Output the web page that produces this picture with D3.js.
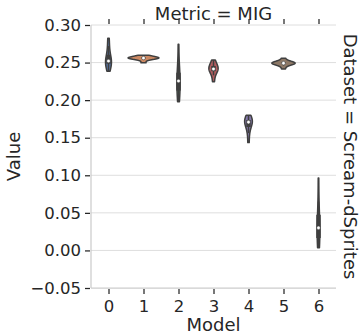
<!DOCTYPE html>
<html><head><meta charset="utf-8">
<script src="https://cdn.jsdelivr.net/npm/d3@7"></script>
<style>html,body{margin:0;padding:0;background:#fff;}svg{display:block;}</style>
</head><body>
<svg id="c" width="361" height="334"></svg>
<script>
// ---- data ----
const models = [0, 1, 2, 3, 4, 5, 6];
const yTicks = [-0.05, 0.00, 0.05, 0.10, 0.15, 0.20, 0.25, 0.30];
const palette = ["#4c72b0", "#dd8452", "#55a868", "#c44e52", "#8172b3", "#937860", "#da8bc3"];
const runs0 = [0.2385, 0.2440, 0.2480, 0.2500, 0.2515, 0.2525, 0.2560, 0.2620, 0.2720, 0.2825];
const runs1 = [0.2497, 0.2538, 0.2552, 0.2557, 0.2559, 0.2561, 0.2566, 0.2572, 0.2582, 0.2597];
const runs2 = [0.1980, 0.2040, 0.2110, 0.2180, 0.2230, 0.2280, 0.2320, 0.2380, 0.2500, 0.2745];
const runs3 = [0.2245, 0.2330, 0.2380, 0.2400, 0.2410, 0.2420, 0.2440, 0.2460, 0.2490, 0.2535];
const runs4 = [0.1435, 0.1560, 0.1630, 0.1680, 0.1700, 0.1715, 0.1725, 0.1740, 0.1755, 0.1800];
const runs5 = [0.2415, 0.2462, 0.2480, 0.2486, 0.2490, 0.2494, 0.2498, 0.2503, 0.2515, 0.2558];
const runs6 = [0.0035, 0.0090, 0.0150, 0.0210, 0.0270, 0.0330, 0.0400, 0.0500, 0.0650, 0.0965];
const runs = [runs0, runs1, runs2, runs3, runs4, runs5, runs6];
const titleText = "Metric = MIG";
const rowText = "Dataset = Scream-dSprites";
const xLabel = "Model", yLabel = "Value";

// ---- layout ----
const L = 91, R = 336, T = 25, B = 288;
const svg = d3.select("#c");
const font = "DejaVu Sans, sans-serif";
const ink = "#262626";
const gray = "#3f3f3f";

const x = d3.scalePoint().domain(models).range([L, R]).padding(0.5);
const y = d3.scaleLinear().domain([-0.05, 0.30]).range([B, T]);
const step = x.step();

// gridlines
svg.append("g").selectAll("line").data(yTicks.filter(v => v > -0.05)).join("line")
  .attr("x1", L).attr("x2", R).attr("y1", d => y(d)).attr("y2", d => y(d))
  .attr("stroke", "#dedede").attr("stroke-width", 1);

// spines
svg.append("line").attr("x1", L).attr("x2", L).attr("y1", T).attr("y2", B).attr("stroke", "#cccccc").attr("stroke-width", 1.25);
svg.append("line").attr("x1", L).attr("x2", R).attr("y1", B).attr("y2", B).attr("stroke", "#cccccc").attr("stroke-width", 1.25);

// axes
const fmt = d => (d < 0 ? "\u2212" : "") + Math.abs(d).toFixed(2);
const yAxis = svg.append("g").attr("transform", `translate(${L - 1},0)`)
  .call(d3.axisLeft(y).tickValues(yTicks).tickFormat(fmt).tickSize(5).tickPadding(4));
const xAxis = svg.append("g").attr("transform", `translate(0,${B + 1})`)
  .call(d3.axisBottom(x).tickSize(5).tickPadding(6));
const xTop = svg.append("g").attr("transform", `translate(0,${T - 1})`)
  .call(d3.axisTop(x).tickSize(5).tickFormat(""));
[yAxis, xAxis, xTop].forEach(g => {
  g.select(".domain").remove();
  g.selectAll("line").attr("stroke", ink).attr("stroke-width", 1.25);
  g.selectAll("text").attr("fill", ink).attr("font-family", font).attr("font-size", 16.5);
});

// KDE helpers
function kde(data, cut, grid) {
  const n = data.length, sd = d3.deviation(data);
  const bw = Math.pow(n, -0.2) * sd;
  const lo = d3.min(data) - cut * bw, hi = d3.max(data) + cut * bw;
  const pts = d3.range(grid).map(i => lo + (hi - lo) * i / (grid - 1));
  return pts.map(v => [v, d3.sum(data, d => Math.exp(-0.5 * ((v - d) / bw) ** 2)) / (n * bw * Math.sqrt(2 * Math.PI))]);
}
function desat(c, p) { const h = d3.hsl(c); h.s *= p; return h.formatHex(); }

const dens = runs.map(r => kde(r, 0, 100));
const maxD = d3.max(dens, d => d3.max(d, p => p[1]));
const w = d3.scaleLinear().domain([0, maxD]).range([0, step * 0.44]);

models.forEach((m, i) => {
  const cx = x(m);
  const area = d3.area().curve(d3.curveLinear)
    .y(p => y(p[0])).x0(p => cx - w(p[1])).x1(p => cx + w(p[1]));
  svg.append("path").datum(dens[i]).attr("d", area)
    .attr("fill", desat(palette[i], 0.75)).attr("stroke", gray).attr("stroke-width", 1.5)
    .attr("stroke-linejoin", "round");
  const s = runs[i].slice().sort(d3.ascending);
  const q1 = d3.quantile(s, 0.25), q2 = d3.quantile(s, 0.5), q3 = d3.quantile(s, 0.75);
  const iqr = q3 - q1;
  const lo = d3.min(s.filter(v => v >= q1 - 1.5 * iqr)), hi = d3.max(s.filter(v => v <= q3 + 1.5 * iqr));
  svg.append("line").attr("x1", cx).attr("x2", cx).attr("y1", y(lo)).attr("y2", y(hi))
    .attr("stroke", gray).attr("stroke-width", 1.5);
  svg.append("line").attr("x1", cx).attr("x2", cx).attr("y1", y(q1)).attr("y2", y(q3))
    .attr("stroke", gray).attr("stroke-width", 4.5);
  svg.append("circle").attr("cx", cx).attr("cy", y(q2)).attr("r", 1.8)
    .attr("fill", "#fff").attr("stroke", gray).attr("stroke-width", 0.5);
});

// labels
svg.append("text").attr("x", (L + R) / 2).attr("y", 20).attr("text-anchor", "middle")
  .attr("font-family", font).attr("font-size", 18).attr("fill", ink).text(titleText);
svg.append("text").attr("transform", `translate(344,${(T + B) / 2}) rotate(90)`).attr("text-anchor", "middle")
  .attr("font-family", font).attr("font-size", 18).attr("fill", ink).text(rowText);
svg.append("text").attr("transform", `translate(20,${(T + B) / 2}) rotate(-90)`).attr("text-anchor", "middle")
  .attr("font-family", font).attr("font-size", 18).attr("fill", ink).text(yLabel);
svg.append("text").attr("x", (L + R) / 2).attr("y", 331).attr("text-anchor", "middle")
  .attr("font-family", font).attr("font-size", 18).attr("fill", ink).text(xLabel);
</script>
</body></html>
